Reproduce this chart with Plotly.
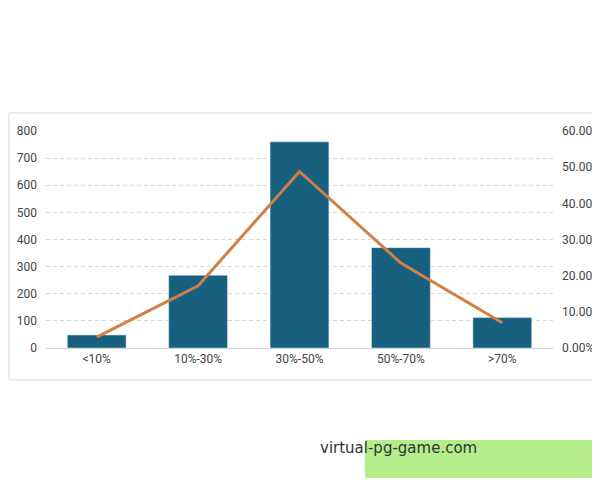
import plotly.graph_objects as go

categories = ["<10%", "10%-30%", "30%-50%", "50%-70%", ">70%"]
counts = [48, 268, 760, 370, 112]
shares = [0.03, 0.172, 0.488, 0.235, 0.07]

fig = go.Figure()
fig.add_bar(x=categories, y=counts, marker_color="#17607f", width=0.58, yaxis="y")
fig.add_scatter(x=categories, y=shares, mode="lines", line=dict(color="#d07f45", width=3), yaxis="y2")

fig.update_layout(
    width=600, height=480, showlegend=False,
    margin=dict(l=38, r=55, t=123, b=140),
    plot_bgcolor="white", paper_bgcolor="white",
    font=dict(family="Roboto, sans-serif", size=12, color="#444"),
    xaxis=dict(showline=True, linecolor="#d0d0d0", ticks="", tickfont=dict(size=12), automargin=False),
    yaxis=dict(range=[0, 800], dtick=100, gridcolor="#d8d8d8", griddash="4px,3px",
               zeroline=False, ticks="", ticklabelstandoff=8, automargin=False),
    yaxis2=dict(range=[0, 0.6], dtick=0.1, tickformat=".2%", overlaying="y", side="right",
                showgrid=False, zeroline=False, ticks="", ticklabelstandoff=8, automargin=False),
    shapes=[dict(type="rect", xref="paper", yref="paper", x0=-0.073, x1=1.105, y0=-0.147, y1=1.083,
                 line=dict(color="#d8d8d8", width=1), layer="below"),
            dict(type="rect", xref="paper", yref="paper", x0=0.629, x1=1.079, y0=-0.599, y1=-0.424,
                 fillcolor="#b3ee8a", line=dict(width=0))],
    annotations=[dict(text="virtual-pg-game.com", xref="paper", yref="paper", x=0.854, y=-0.511,
                      showarrow=False, font=dict(family="DejaVu Sans", size=15, color="#333"))],
)
fig.write_html("out.html")
